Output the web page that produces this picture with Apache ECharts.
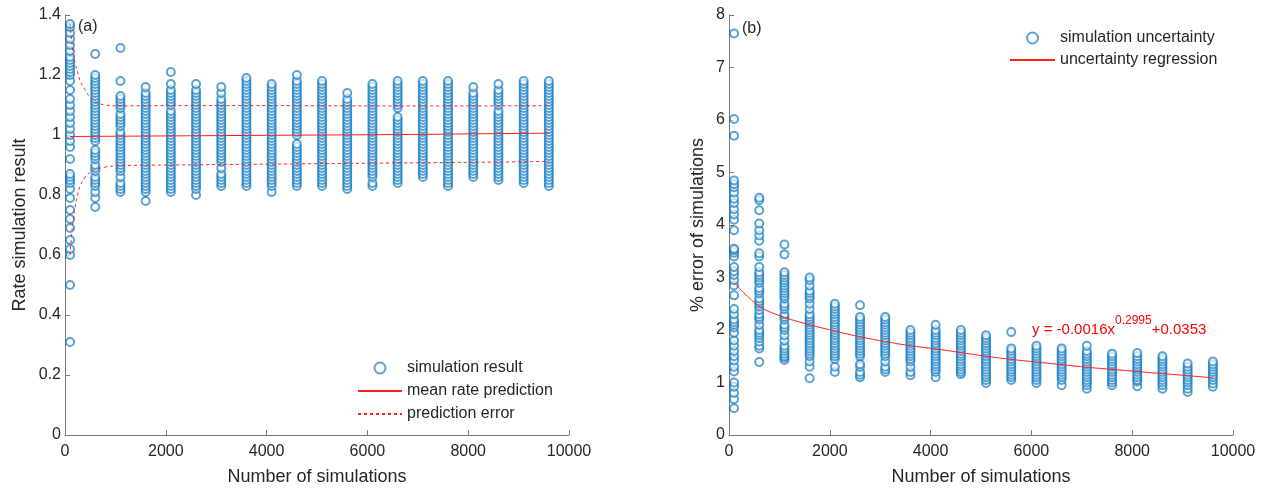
<!DOCTYPE html>
<html>
<head>
<meta charset="utf-8">
<script src="https://cdn.jsdelivr.net/npm/echarts@6/dist/echarts.min.js"></script>
<style>html,body{margin:0;padding:0;background:#fff;}#c{width:1270px;height:491px;}</style>
</head>
<body>
<div id="c"></div>
<script>
// x positions of the simulation batches
const simCounts = [100,600,1100,1600,2100,2600,3100,3600,4100,4600,5100,5600,6100,6600,7100,7600,8100,8600,9100,9600];

// (a) rate simulation results per batch
const rate100 = [0.31,0.50,0.60,0.62,0.65,0.69,0.72,0.75,0.79,0.82,0.84,0.85,0.86,0.87,0.92,0.96,0.98,1.00,1.02,1.04,1.06,1.08,1.10,1.12,1.15,1.18,1.20,1.21,1.22,1.23,1.24,1.25,1.26,1.28,1.30,1.32,1.34,1.36,1.37];
const rate600 = [0.76,0.79,0.81,0.83,0.84,0.85,0.86,0.88,0.89,0.90,0.92,0.93,0.94,0.95,0.98,0.99,1.00,1.01,1.02,1.03,1.04,1.05,1.06,1.07,1.08,1.09,1.10,1.11,1.12,1.13,1.14,1.15,1.16,1.17,1.18,1.19,1.20,1.27];
const rate1100 = [0.81,0.82,0.83,0.84,0.86,0.88,0.89,0.90,0.91,0.92,0.93,0.94,0.95,0.96,0.97,0.98,0.99,1.00,1.01,1.03,1.04,1.05,1.06,1.07,1.09,1.10,1.11,1.12,1.13,1.18,1.29];
const rate1600 = [0.78,0.81,0.82,0.83,0.84,0.85,0.86,0.87,0.88,0.89,0.90,0.91,0.92,0.93,0.94,0.95,0.96,0.97,0.98,0.99,1.00,1.01,1.02,1.03,1.04,1.05,1.06,1.07,1.08,1.09,1.10,1.11,1.12,1.13,1.14,1.16];
const rate2100 = [0.81,0.82,0.83,0.84,0.85,0.86,0.87,0.88,0.89,0.90,0.91,0.92,0.93,0.94,0.95,0.96,0.97,0.98,0.99,1.00,1.01,1.02,1.03,1.04,1.05,1.06,1.07,1.08,1.10,1.11,1.12,1.13,1.14,1.15,1.17,1.21];
const rate2600 = [0.80,0.82,0.83,0.84,0.85,0.86,0.87,0.88,0.89,0.90,0.91,0.92,0.93,0.94,0.95,0.96,0.97,0.98,0.99,1.00,1.01,1.02,1.03,1.04,1.05,1.06,1.07,1.08,1.09,1.10,1.11,1.12,1.13,1.14,1.15,1.17];
const rate3100 = [0.83,0.84,0.85,0.86,0.87,0.89,0.91,0.92,0.93,0.94,0.95,0.96,0.97,0.98,0.99,1.00,1.01,1.02,1.03,1.04,1.05,1.06,1.07,1.08,1.09,1.10,1.11,1.12,1.14,1.16];
const rate3600 = [0.83,0.84,0.85,0.86,0.87,0.88,0.89,0.90,0.91,0.92,0.93,0.94,0.95,0.96,0.97,0.98,0.99,1.00,1.01,1.02,1.03,1.04,1.05,1.06,1.07,1.08,1.09,1.10,1.11,1.12,1.13,1.14,1.15,1.16,1.17,1.18,1.19];
const rate4100 = [0.81,0.83,0.84,0.85,0.86,0.87,0.88,0.89,0.90,0.91,0.92,0.93,0.94,0.95,0.96,0.97,0.98,0.99,1.00,1.01,1.02,1.03,1.04,1.05,1.06,1.07,1.08,1.09,1.10,1.11,1.12,1.13,1.14,1.15,1.16,1.17];
const rate4600 = [0.83,0.84,0.85,0.86,0.87,0.88,0.89,0.90,0.91,0.92,0.93,0.94,0.95,0.96,0.97,1.00,1.01,1.02,1.03,1.04,1.05,1.06,1.07,1.08,1.09,1.10,1.11,1.12,1.13,1.14,1.15,1.16,1.17,1.18,1.20];
const rate5100 = [0.83,0.84,0.85,0.86,0.87,0.88,0.89,0.90,0.91,0.92,0.93,0.94,0.95,0.96,0.97,0.98,0.99,1.00,1.01,1.02,1.03,1.04,1.05,1.06,1.07,1.08,1.09,1.10,1.11,1.12,1.13,1.14,1.15,1.16,1.17,1.18];
const rate5600 = [0.82,0.83,0.84,0.85,0.86,0.87,0.88,0.89,0.90,0.91,0.92,0.93,0.94,0.95,0.96,0.97,0.98,0.99,1.00,1.01,1.02,1.03,1.04,1.05,1.06,1.07,1.08,1.09,1.10,1.11,1.12,1.14];
const rate6100 = [0.83,0.84,0.86,0.87,0.88,0.89,0.90,0.91,0.92,0.93,0.94,0.95,0.96,0.97,0.98,0.99,1.00,1.01,1.02,1.03,1.04,1.05,1.06,1.07,1.08,1.09,1.10,1.11,1.12,1.13,1.14,1.15,1.16,1.17];
const rate6600 = [0.84,0.85,0.86,0.87,0.88,0.89,0.90,0.91,0.92,0.93,0.94,0.95,0.96,0.97,0.98,0.99,1.00,1.01,1.02,1.03,1.04,1.05,1.06,1.09,1.10,1.11,1.12,1.13,1.14,1.15,1.16,1.17,1.18];
const rate7100 = [0.86,0.87,0.88,0.89,0.90,0.91,0.92,0.93,0.94,0.95,0.96,0.97,0.98,0.99,1.00,1.01,1.02,1.03,1.04,1.05,1.06,1.07,1.08,1.09,1.10,1.11,1.12,1.13,1.14,1.15,1.16,1.17,1.18];
const rate7600 = [0.83,0.84,0.85,0.86,0.87,0.88,0.89,0.90,0.91,0.92,0.93,0.94,0.95,0.96,0.97,0.98,0.99,1.00,1.01,1.02,1.03,1.04,1.05,1.06,1.07,1.08,1.09,1.10,1.11,1.12,1.13,1.14,1.15,1.16,1.17,1.18];
const rate8100 = [0.86,0.87,0.88,0.89,0.90,0.91,0.92,0.93,0.94,0.95,0.96,0.97,0.98,0.99,1.00,1.01,1.02,1.03,1.04,1.05,1.06,1.07,1.08,1.09,1.10,1.11,1.12,1.13,1.14,1.16];
const rate8600 = [0.85,0.86,0.87,0.88,0.89,0.90,0.91,0.92,0.93,0.94,0.95,0.96,0.97,0.98,0.99,1.00,1.01,1.02,1.03,1.04,1.05,1.06,1.07,1.08,1.10,1.11,1.12,1.13,1.14,1.15,1.17];
const rate9100 = [0.84,0.85,0.86,0.87,0.88,0.89,0.90,0.91,0.92,0.93,0.94,0.95,0.96,0.97,0.98,0.99,1.00,1.01,1.02,1.03,1.04,1.05,1.06,1.07,1.08,1.09,1.10,1.11,1.12,1.13,1.14,1.15,1.16,1.17,1.18];
const rate9600 = [0.83,0.84,0.85,0.86,0.87,0.88,0.89,0.90,0.91,0.92,0.93,0.94,0.95,0.96,0.97,0.98,0.99,1.00,1.01,1.02,1.03,1.04,1.05,1.06,1.07,1.08,1.09,1.10,1.11,1.12,1.13,1.14,1.15,1.16,1.17,1.18];

// (a) mean rate prediction and prediction error bounds
const meanX = [100,1100,2100,3100,4100,5100,6100,7100,8100,9600];
const meanY = [0.995,0.996,0.997,0.998,0.999,1.000,1.001,1.002,1.004,1.006];
const errBandX = [100,150,200,250,300,400,500,600,800,1100,2100,4100,6100,8100,9600];
const errUpper = [1.37,1.29,1.24,1.21,1.18,1.15,1.125,1.11,1.10,1.097,1.098,1.098,1.097,1.097,1.098];
const errLower = [0.60,0.70,0.76,0.80,0.83,0.86,0.875,0.885,0.893,0.898,0.900,0.903,0.906,0.909,0.912];

// (b) % error of simulations per batch
const err100 = [0.51,0.68,0.80,0.92,1.00,1.21,1.30,1.42,1.50,1.60,1.70,1.80,1.95,2.05,2.10,2.15,2.20,2.30,2.40,2.66,2.85,2.95,3.05,3.12,3.20,3.40,3.47,3.52,3.55,3.90,4.10,4.20,4.30,4.42,4.50,4.62,4.72,4.78,4.85,5.70,6.02,7.65];
const err600 = [1.39,1.65,1.70,1.78,1.85,1.90,1.95,2.00,2.10,2.20,2.25,2.30,2.38,2.45,2.50,2.55,2.60,2.70,2.75,2.80,2.90,2.95,3.00,3.05,3.10,3.20,3.40,3.46,3.70,3.80,3.90,4.03,4.28,4.47,4.52];
const err1100 = [1.43,1.47,1.50,1.55,1.60,1.65,1.70,1.80,1.90,2.00,2.05,2.10,2.20,2.25,2.30,2.40,2.45,2.50,2.60,2.65,2.70,2.75,2.80,2.85,2.90,2.95,3.00,3.05,3.10,3.44,3.63];
const err1600 = [1.08,1.30,1.40,1.50,1.55,1.60,1.65,1.70,1.75,1.80,1.85,1.90,1.95,2.00,2.05,2.10,2.15,2.20,2.25,2.30,2.40,2.50,2.60,2.65,2.70,2.75,2.85,2.95,3.00];
const err2100 = [1.20,1.30,1.45,1.50,1.55,1.60,1.65,1.70,1.75,1.80,1.85,1.90,1.95,2.00,2.05,2.10,2.15,2.20,2.25,2.30,2.35,2.40,2.45,2.50];
const err2600 = [1.10,1.15,1.20,1.30,1.35,1.50,1.55,1.60,1.65,1.70,1.75,1.80,1.85,1.90,1.95,2.00,2.05,2.10,2.15,2.20,2.25,2.47];
const err3100 = [1.20,1.25,1.30,1.40,1.50,1.55,1.60,1.65,1.70,1.75,1.80,1.85,1.90,1.95,2.00,2.05,2.10,2.15,2.20,2.25];
const err3600 = [1.14,1.20,1.30,1.40,1.45,1.50,1.55,1.60,1.65,1.70,1.75,1.80,1.85,1.90,1.95,2.00];
const err4100 = [1.10,1.20,1.25,1.30,1.35,1.40,1.45,1.50,1.55,1.60,1.65,1.70,1.75,1.80,1.85,1.90,1.95,2.00,2.10];
const err4600 = [1.16,1.20,1.25,1.30,1.35,1.40,1.45,1.50,1.55,1.60,1.65,1.70,1.75,1.80,1.85,1.90,1.95,2.00];
const err5100 = [0.99,1.05,1.10,1.15,1.20,1.25,1.30,1.35,1.40,1.45,1.50,1.55,1.60,1.65,1.70,1.75,1.80,1.85,1.90];
const err5600 = [1.05,1.10,1.15,1.20,1.25,1.30,1.35,1.40,1.45,1.50,1.55,1.60,1.65,1.96];
const err6100 = [0.99,1.05,1.10,1.15,1.20,1.25,1.30,1.35,1.40,1.45,1.50,1.55,1.60,1.65,1.70];
const err6600 = [0.95,1.05,1.10,1.15,1.20,1.25,1.30,1.35,1.40,1.45,1.50,1.55,1.60,1.65];
const err7100 = [0.88,0.95,1.00,1.05,1.10,1.15,1.20,1.25,1.30,1.35,1.40,1.45,1.50,1.55,1.60,1.70];
const err7600 = [0.95,1.00,1.05,1.10,1.15,1.20,1.25,1.30,1.35,1.40,1.45,1.50,1.55];
const err8100 = [0.93,1.02,1.05,1.10,1.15,1.20,1.25,1.30,1.35,1.40,1.45,1.50,1.56];
const err8600 = [0.88,0.95,1.00,1.05,1.10,1.15,1.20,1.25,1.30,1.35,1.40,1.45,1.50];
const err9100 = [0.82,0.88,0.95,1.00,1.05,1.10,1.15,1.20,1.25,1.30,1.36];
const err9600 = [0.92,0.98,1.05,1.10,1.15,1.20,1.25,1.30,1.35,1.40];

// (b) uncertainty regression curve
const regY = [2.90,2.45,2.24,2.10,1.98,1.87,1.78,1.70,1.64,1.57,1.50,1.44,1.39,1.34,1.29,1.25,1.21,1.17,1.13,1.09];

const rateCols = [rate100,rate600,rate1100,rate1600,rate2100,rate2600,rate3100,rate3600,rate4100,rate4600,rate5100,rate5600,rate6100,rate6600,rate7100,rate7600,rate8100,rate8600,rate9100,rate9600];
const errCols = [err100,err600,err1100,err1600,err2100,err2600,err3100,err3600,err4100,err4600,err5100,err5600,err6100,err6600,err7100,err7600,err8100,err8600,err9100,err9600];

function flatten(cols){ const out=[]; cols.forEach((c,i)=>c.forEach(v=>out.push([simCounts[i],v]))); return out; }
function zip(xs,ys){ return xs.map((x,i)=>[x,ys[i]]); }

const FONT = '"Liberation Sans", Arial, sans-serif';
const TXT = '#262626';
const AX = '#7a7a7a';
const BLUE = '#0072BD';
const RED = '#ff2020';

function xAxisDef(gi){
  return {type:'value', gridIndex:gi, min:0, max:10000, interval:2000,
    name:'Number of simulations', nameLocation:'middle', nameGap:33,
    nameTextStyle:{fontFamily:FONT, fontSize:18, color:TXT},
    axisLine:{lineStyle:{color:AX, width:1}},
    axisTick:{inside:true, length:5, lineStyle:{color:AX}},
    axisLabel:{fontFamily:FONT, fontSize:16, color:TXT, margin:9, formatter:(v)=>String(v)},
    splitLine:{show:false}};
}
function yAxisDef(gi, max, interval, name, gap){
  return {type:'value', gridIndex:gi, min:0, max:max, interval:interval,
    name:name, nameLocation:'middle', nameGap:gap,
    nameTextStyle:{fontFamily:FONT, fontSize:18, color:TXT},
    axisLine:{show:true, lineStyle:{color:AX, width:1}},
    axisTick:{show:true, inside:true, length:5, lineStyle:{color:AX}},
    axisLabel:{fontFamily:FONT, fontSize:16, color:TXT, margin:4},
    splitLine:{show:false}};
}
const hideDot = {color:'rgba(0,0,0,0)', borderColor:'rgba(0,0,0,0)', borderWidth:0, opacity:0};

const chart = echarts.init(document.getElementById('c'), null, {renderer:'canvas'});
chart.setOption({
  animation:false,
  backgroundColor:'#fff',
  grid:[
    {left:65, top:15, width:504, height:420},
    {left:729, top:15, width:504, height:420}
  ],
  xAxis:[xAxisDef(0), xAxisDef(1)],
  yAxis:[yAxisDef(0,1.4,0.2,'Rate simulation result',36), yAxisDef(1,8,1,'% error of simulations',22)],
  legend:[
    {left:357, top:360, padding:0, orient:'vertical', itemWidth:44, itemHeight:11, itemGap:7,
     textStyle:{fontFamily:FONT, fontSize:16, color:TXT},
     data:['simulation result',
           {name:'mean rate prediction', itemStyle:hideDot},
           {name:'prediction error', itemStyle:hideDot}]},
    {left:1009, top:30, padding:0, orient:'vertical', itemWidth:45, itemHeight:11, itemGap:6,
     textStyle:{fontFamily:FONT, fontSize:16, color:TXT},
     data:['simulation uncertainty', {name:'uncertainty regression', itemStyle:hideDot}]}
  ],
  series:[
    {name:'simulation result', type:'scatter', xAxisIndex:0, yAxisIndex:0,
     symbol:'emptyCircle', symbolSize:8, data:flatten(rateCols),
     itemStyle:{color:BLUE, borderColor:BLUE, borderWidth:1, opacity:0.65}},
    {name:'mean rate prediction', type:'line', xAxisIndex:0, yAxisIndex:0, symbol:'none',
     data:zip(meanX,meanY), lineStyle:{color:RED, width:1}, itemStyle:{color:RED}, z:5},
    {name:'prediction error', type:'line', xAxisIndex:0, yAxisIndex:0, symbol:'none', smooth:0.4,
     data:zip(errBandX,errUpper), lineStyle:{color:RED, width:1, type:[3,3]}, itemStyle:{color:RED}, z:5},
    {name:'prediction error', type:'line', xAxisIndex:0, yAxisIndex:0, symbol:'none', smooth:0.4,
     data:zip(errBandX,errLower), lineStyle:{color:RED, width:1, type:[3,3]}, itemStyle:{color:RED}, z:5},
    {name:'simulation uncertainty', type:'scatter', xAxisIndex:1, yAxisIndex:1,
     symbol:'emptyCircle', symbolSize:8, data:flatten(errCols),
     itemStyle:{color:BLUE, borderColor:BLUE, borderWidth:1, opacity:0.65}},
    {name:'uncertainty regression', type:'line', xAxisIndex:1, yAxisIndex:1, symbol:'none', smooth:0.3,
     data:zip(simCounts,regY), lineStyle:{color:RED, width:1}, itemStyle:{color:RED}, z:5}
  ],
  graphic:[
    {type:'text', left:78, top:19, style:{text:'(a)', font:'16px '+FONT, fill:TXT}},
    {type:'text', left:742, top:21, style:{text:'(b)', font:'16px '+FONT, fill:TXT}},
    {type:'text', left:1032, top:315, style:{
      text:'{m|y = -0.0016x}{s|0.2995}{m|+0.0353}',
      rich:{ m:{fontFamily:FONT, fontSize:15, fill:'#ff0000', color:'#ff0000', verticalAlign:'bottom', lineHeight:22},
             s:{fontFamily:FONT, fontSize:12, fill:'#ff0000', color:'#ff0000', verticalAlign:'top', lineHeight:20}}
    }}
  ]
});
</script>
</body>
</html>
